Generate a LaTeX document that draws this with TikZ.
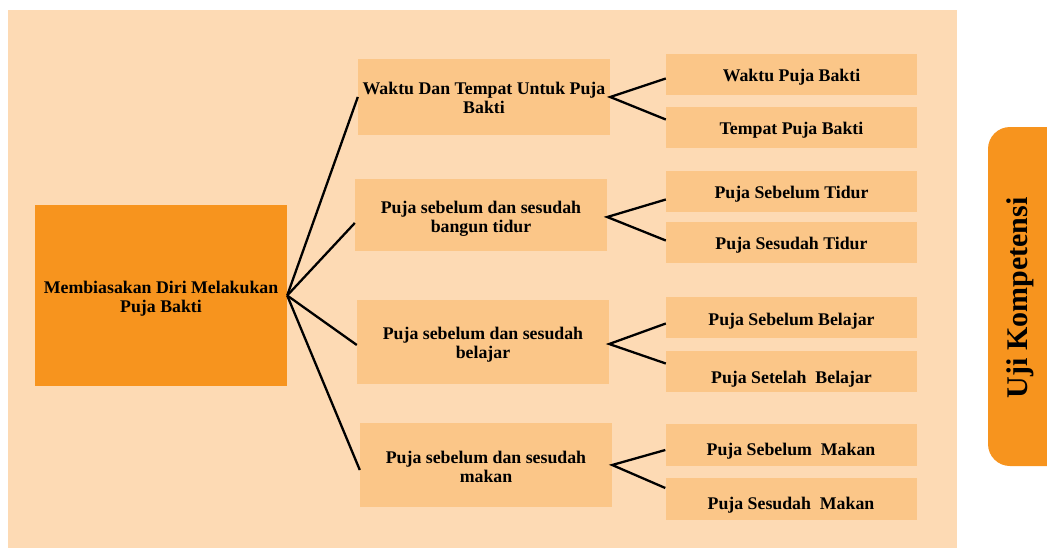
\documentclass[tikz,border=0pt]{standalone}
\usepackage{fontspec}
\setmainfont{Liberation Serif}
\usetikzlibrary{calc}
\definecolor{bgpeach}{HTML}{FDDAB4}
\definecolor{boxpeach}{HTML}{FBC688}
\definecolor{mainorange}{HTML}{F7941E}
\tikzset{
  box/.style={rectangle, fill=boxpeach, inner sep=0pt},
  mainbox/.style={rectangle, fill=mainorange, inner sep=0pt},
  boxtext/.style={inner sep=0pt, align=center,
    font=\fontsize{17.8}{19}\selectfont\bfseries},
  link/.style={line width=2.3pt, black}
}
\begin{document}
\begin{tikzpicture}[x=1pt,y=-1pt]
\useasboundingbox (0,0) rectangle (1047,549);
\fill[bgpeach] (8,10) rectangle (957,548);
% Uji Kompetensi tab
\begin{scope}
\clip (0,0) rectangle (1047,549);
\fill[mainorange, rounded corners=22pt] (988,127) rectangle (1070,466);
\end{scope}
\node[rotate=90, font=\fontsize{30}{32}\selectfont\bfseries] (uji) at (1020,298) {Uji Kompetensi};
% main box
\node[mainbox, minimum width=252pt, minimum height=181pt] (main) at (161,295.5) {};
\node[boxtext] (tmain) at ($(main)+(0,3)$) {Membiasakan Diri Melakukan\\Puja Bakti};
% middle boxes
\node[box, minimum width=252pt, minimum height=76pt] (m1) at (484,97) {};
\node[boxtext] (tm1) at ($(m1)+(0,1)$) {Waktu Dan Tempat Untuk Puja\\Bakti};
\node[box, minimum width=252pt, minimum height=72pt] (m2) at (481,215) {};
\node[boxtext] (tm2) at ($(m2)+(0,4)$) {Puja sebelum dan sesudah\\bangun tidur};
\node[box, minimum width=252pt, minimum height=84pt] (m3) at (483,342) {};
\node[boxtext] (tm3) at ($(m3)+(0,3)$) {Puja sebelum dan sesudah\\belajar};
\node[box, minimum width=252pt, minimum height=84pt] (m4) at (486,465) {};
\node[boxtext] (tm4) at ($(m4)+(0,2)$) {Puja sebelum dan sesudah\\makan};
% right boxes
\node[box, minimum width=251pt, minimum height=41pt] (r1) at (791.5,74.5) {};
\node[boxtext] (tr1) at ($(r1)+(0,3)$) {Waktu Puja Bakti};
\node[box, minimum width=251pt, minimum height=41pt] (r2) at (791.5,127.5) {};
\node[boxtext] (tr2) at ($(r2)+(0,3)$) {Tempat Puja Bakti};
\node[box, minimum width=251pt, minimum height=41pt] (r3) at (791.5,191.5) {};
\node[boxtext] (tr3) at ($(r3)+(0,3)$) {Puja Sebelum Tidur};
\node[box, minimum width=251pt, minimum height=41pt] (r4) at (791.5,242.5) {};
\node[boxtext] (tr4) at ($(r4)+(0,3)$) {Puja Sesudah Tidur};
\node[box, minimum width=251pt, minimum height=41pt] (r5) at (791.5,317.5) {};
\node[boxtext] (tr5) at ($(r5)+(0,4)$) {Puja Sebelum Belajar};
\node[box, minimum width=251pt, minimum height=41pt] (r6) at (791.5,371.5) {};
\node[boxtext] (tr6) at ($(r6)+(0,8)$) {Puja Setelah\ \ Belajar};
\node[box, minimum width=251pt, minimum height=42pt] (r7) at (791,445) {};
\node[boxtext] (tr7) at ($(r7)+(0,6)$) {Puja Sebelum\ \ Makan};
\node[box, minimum width=251pt, minimum height=42pt] (r8) at (791,499) {};
\node[boxtext] (tr8) at ($(r8)+(0,6)$) {Puja Sesudah\ \ Makan};
% connectors from main
\draw[link] (main.east) -- (m1.west);
\draw[link] (main.east) -- ($(m2.west)+(0,8)$);
\draw[link] (main.east) -- ($(m3.west)+(0,3)$);
\draw[link] (main.east) -- ($(m4.west)+(0,5)$);
% forks
\draw[link] ($(r1.west)+(0,4)$) -- (m1.east) -- ($(r2.west)+(0,-8)$);
\draw[link] ($(r3.west)+(0,8)$) -- ($(m2.east)+(0,2)$) -- ($(r4.west)+(0,-2)$);
\draw[link] ($(r5.west)+(0,6)$) -- ($(m3.east)+(0,2)$) -- ($(r6.west)+(0,-8)$);
\draw[link] ($(r7.west)+(0,5)$) -- (m4.east) -- ($(r8.west)+(0,-11)$);
\end{tikzpicture}
\end{document}
